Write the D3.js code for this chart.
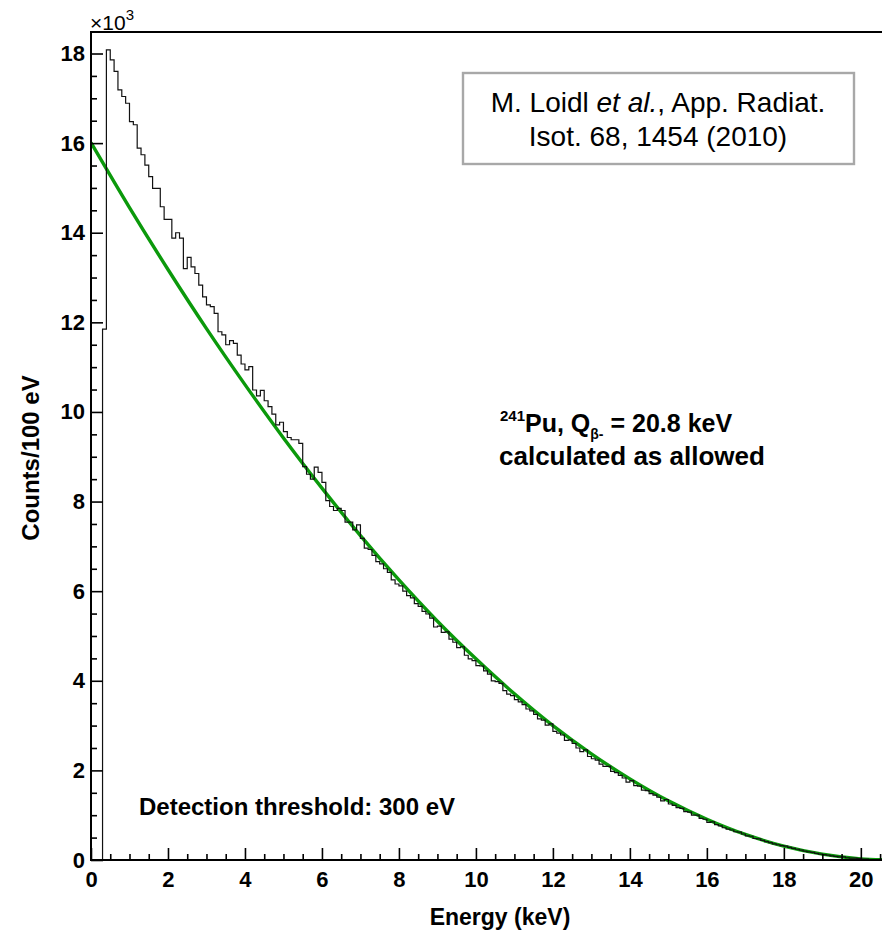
<!DOCTYPE html>
<meta charset="utf-8">
<html>
<head>
<script src="https://cdn.jsdelivr.net/npm/d3@7"></script>
<style>
body { margin: 0; background: #fff; }
text { font-family: "Liberation Sans", Arial, Helvetica, sans-serif; }
.axis text { font-size: 22px; font-weight: bold; fill: #000; }
.axis line { stroke: #000; stroke-width: 1.6; }
</style>
</head>
<body>
<div id="chart"></div>
<script>

// histogram: counts per 100 eV bin (in units of 10^3), first bin starts at 0.3 keV
var firstBin = 0.3, binWidth = 0.1;
var counts = [
  // 0.3 - 0.9 keV
  11.85, 18.08, 17.86, 17.60, 17.19, 17.04, 16.89,
  // 1.0 - 1.9
  16.48, 16.41, 15.89, 15.74, 15.51, 15.25, 14.99, 14.99, 14.58, 14.30,
  // 2.0 - 2.9
  14.30, 13.88, 14.00, 13.88, 13.20, 13.45, 13.24, 13.09, 12.83, 12.57,
  // 3.0 - 3.9
  12.39, 12.35, 12.20, 11.79, 11.72, 11.50, 11.59, 11.53, 11.27, 11.07,
  // 4.0 - 4.9
  10.94, 11.01, 10.49, 10.36, 10.48, 10.25, 10.12, 9.95, 9.71, 9.77,
  // 5.0 - 5.9
  9.56, 9.43, 9.38, 9.38, 9.30, 8.78, 8.61, 8.50, 8.77, 8.65,
  // 6.0 - 6.9
  8.43, 8.02, 7.89, 7.80, 7.85, 7.80, 7.54, 7.54, 7.37, 7.48,
  // 7.0 - 7.9
  7.18, 6.96, 6.93, 6.80, 6.66, 6.61, 6.50, 6.42, 6.25, 6.16,
  // 8.0 - 8.9
  6.12, 6.00, 5.90, 5.85, 5.72, 5.66, 5.55, 5.49, 5.40, 5.20,
  // 9.0 - 9.9
  5.22, 5.08, 5.09, 4.93, 4.86, 4.74, 4.76, 4.57, 4.49, 4.45,
  // 10.0 - 10.9
  4.34, 4.33, 4.22, 4.15, 4.00, 3.98, 3.94, 3.78, 3.70, 3.67,
  // 11.0 - 11.9
  3.58, 3.53, 3.47, 3.37, 3.33, 3.25, 3.15, 3.12, 3.01, 3.04,
  // 12.0 - 12.9
  2.87, 2.83, 2.79, 2.67, 2.68, 2.60, 2.50, 2.42, 2.46, 2.31,
  // 13.0 - 13.9
  2.26, 2.23, 2.14, 2.09, 2.09, 1.98, 1.95, 1.89, 1.83, 1.74,
  // 14.0 - 14.9
  1.77, 1.66, 1.65, 1.56, 1.55, 1.48, 1.45, 1.40, 1.32, 1.35,
  // 15.0 - 15.9
  1.25, 1.22, 1.17, 1.15, 1.08, 1.07, 1.00, 1.00, 0.93, 0.91,
  // 16.0 - 16.9
  0.84, 0.85, 0.79, 0.76, 0.72, 0.69, 0.67, 0.63, 0.62, 0.58,
  // 17.0 - 17.9
  0.54, 0.53, 0.48, 0.47, 0.44, 0.41, 0.39, 0.36, 0.34, 0.32,
  // 18.0 - 18.9
  0.31, 0.28, 0.26, 0.24, 0.22, 0.20, 0.18, 0.17, 0.15, 0.13,
  // 19.0 - 19.9
  0.12, 0.11, 0.09, 0.08, 0.07, 0.07, 0.05, 0.04, 0.04, 0.03,
  // 20.0 - 20.6
  0.02, 0.02, 0.01, 0.01, 0.005, 0.005, 0.0
];

// calculated allowed spectrum (green)
var fitE = [0, 1, 2, 3, 4, 5, 6, 7, 8, 9, 10, 11, 12, 13, 14, 15, 16, 17, 18, 19, 20, 20.8];
var fitV = [16.01, 14.56, 13.18, 11.86, 10.61, 9.42, 8.30, 7.24, 6.25, 5.33, 4.49,
            3.71, 3.00, 2.37, 1.81, 1.32, 0.91, 0.57, 0.31, 0.13, 0.026, 0];

// axis ticks
var xTicks = [0, 2, 4, 6, 8, 10, 12, 14, 16, 18, 20];
var yTicks = [0, 2, 4, 6, 8, 10, 12, 14, 16, 18];

var W = 882, H = 934;
var margin = {top: 32, right: 0, bottom: 74, left: 91};

var svg = d3.select("#chart").append("svg")
    .attr("width", W)
    .attr("height", H);

var x = d3.scaleLinear().domain([0, 20.55]).range([margin.left, W - margin.right]);
var y = d3.scaleLinear().domain([0, 18.48]).range([H - margin.bottom, margin.top]);

svg.append("clipPath").attr("id", "plotclip")
  .append("rect")
    .attr("x", x(0)).attr("y", y(18.48))
    .attr("width", x(20.55) - x(0)).attr("height", y(0) - y(18.48));

var plot = svg.append("g").attr("clip-path", "url(#plotclip)");

// green calculated spectrum
var fitLine = d3.line()
    .x(function(d, i) { return x(fitE[i]); })
    .y(function(d) { return y(d); })
    .curve(d3.curveMonotoneX);

plot.append("path")
    .datum(fitV)
    .attr("d", fitLine)
    .attr("fill", "none")
    .attr("stroke", "#0b990b")
    .attr("stroke-width", 3.4);

// histogram outline (drawn on top of the green curve)
var pts = [[0, 0]];
counts.forEach(function(c, i) { pts.push([firstBin + i * binWidth, c]); });
pts.push([firstBin + counts.length * binWidth, 0]);

var step = d3.line()
    .x(function(d) { return x(d[0]); })
    .y(function(d) { return y(d[1]); })
    .curve(d3.curveStepAfter);

plot.append("path")
    .datum(pts)
    .attr("d", step)
    .attr("fill", "none")
    .attr("stroke", "#111")
    .attr("stroke-width", 1.2);

// x axis: major + minor ticks
var gx = svg.append("g").attr("class", "axis")
    .attr("transform", "translate(0," + y(0) + ")")
    .call(d3.axisBottom(x).tickValues(xTicks).tickSize(-12).tickPadding(11).tickFormat(d3.format("d")));
gx.select(".domain").remove();
gx.attr("font-family", null).attr("font-size", null);

var gxm = svg.append("g").attr("class", "axis")
    .attr("transform", "translate(0," + y(0) + ")")
    .call(d3.axisBottom(x).tickValues(d3.range(0, 20.6, 0.5).filter(function(v) { return v % 2 !== 0; }))
      .tickSize(-6).tickFormat(""));
gxm.select(".domain").remove();

// y axis: major + minor ticks
var gy = svg.append("g").attr("class", "axis")
    .attr("transform", "translate(" + x(0) + ",0)")
    .call(d3.axisLeft(y).tickValues(yTicks).tickSize(-12).tickPadding(6).tickFormat(d3.format("d")));
gy.select(".domain").remove();
gy.attr("font-family", null).attr("font-size", null);

var gym = svg.append("g").attr("class", "axis")
    .attr("transform", "translate(" + x(0) + ",0)")
    .call(d3.axisLeft(y).tickValues(d3.range(0, 18.5, 0.5).filter(function(v) { return v % 2 !== 0; }))
      .tickSize(-6).tickFormat(""));
gym.select(".domain").remove();

// frame lines (left, bottom, top)
svg.append("path")
    .attr("d", "M" + x(20.55) + "," + y(18.48) + "H" + x(0) + "V" + y(0) + "H" + x(20.55))
    .attr("fill", "none")
    .attr("stroke", "#000")
    .attr("stroke-width", 2);

// x10^3 exponent
var ex = svg.append("text").attr("x", x(0) - 1).attr("y", 30)
    .attr("font-size", 21);
ex.append("tspan").text("\u00d710");
ex.append("tspan").attr("font-size", 15).attr("dy", -10).text("3");

// axis titles
svg.append("text")
    .attr("x", 500).attr("y", 925)
    .attr("text-anchor", "middle")
    .attr("font-size", 23).attr("font-weight", "bold")
    .text("Energy (keV)");

svg.append("text")
    .attr("transform", "translate(39,458)rotate(-90)")
    .attr("text-anchor", "middle")
    .attr("font-size", 24).attr("font-weight", "bold")
    .text("Counts/100 eV");

// reference box
svg.append("rect")
    .attr("x", 463).attr("y", 73)
    .attr("width", 391).attr("height", 91)
    .attr("fill", "#fff")
    .attr("stroke", "#a8a8a8")
    .attr("stroke-width", 2.4);

var ref = svg.append("text").attr("text-anchor", "middle").attr("font-size", 28);
var r1 = ref.append("tspan").attr("x", 658).attr("y", 112);
r1.append("tspan").text("M. Loidl ");
r1.append("tspan").attr("font-style", "italic").text("et al.");
r1.append("tspan").text(", App. Radiat.");
ref.append("tspan").attr("x", 658).attr("y", 146).text("Isot. 68, 1454 (2010)");

// isotope label
var iso = svg.append("text").attr("x", 500).attr("y", 432)
    .attr("font-size", 25).attr("font-weight", "bold");
iso.append("tspan").attr("font-size", 15).attr("dy", -11).text("241");
iso.append("tspan").attr("dy", 11).text("Pu, Q");
iso.append("tspan").attr("font-size", 14).attr("dy", 7).text("\u03b2-");
iso.append("tspan").attr("dy", -7).text(" = 20.8 keV");

svg.append("text").attr("x", 499).attr("y", 465)
    .attr("font-size", 26).attr("font-weight", "bold")
    .text("calculated as allowed");

svg.append("text").attr("x", 139).attr("y", 815)
    .attr("font-size", 24).attr("font-weight", "bold")
    .text("Detection threshold: 300 eV");

</script>
</body>
</html>
